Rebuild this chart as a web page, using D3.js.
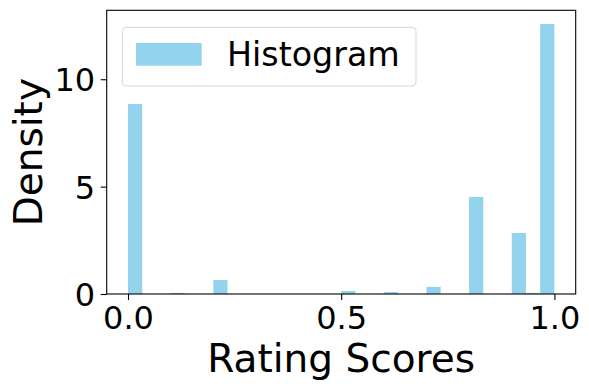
<!DOCTYPE html>
<html>
<head>
<meta charset="utf-8">
<script src="https://cdn.jsdelivr.net/npm/d3@7"></script>
<style>
  body { margin: 0; background: #fff; }
  svg { display: block; font-family: "DejaVu Sans", sans-serif; }
</style>
</head>
<body>
<svg id="chart" width="589" height="390"></svg>
<script>
// ---- data ----
const binLeft  = [0.0, 0.1, 0.2, 0.5, 0.6, 0.7, 0.8, 0.9, 0.9333, 0.9667];
const binRight = [0.0333, 0.1333, 0.2333, 0.5333, 0.6333, 0.7333, 0.8333, 0.9333, 0.9667, 1.0];
const density  = [8.85, 0.05, 0.65, 0.14, 0.09, 0.33, 4.52, 2.84, 0.05, 12.57];
const xTicks = [0.0, 0.5, 1.0];
const yTicks = [0, 5, 10];
const seriesName = "Histogram";
const xLabel = "Rating Scores";
const yLabel = "Density";

// ---- layout ----
const svg = d3.select("#chart");
const L = 106.7, R = 575.7, T = 10.3, B = 294;
const x = d3.scaleLinear().domain([-0.05, 1.05]).range([L, R]);
const y = d3.scaleLinear().domain([0, 13.21]).range([B, T]);
const barColor = "#93d3ed";

// bars
svg.append("g").selectAll("rect")
  .data(binLeft.map((l, i) => ({l, r: binRight[i], v: density[i]})))
  .join("rect")
  .attr("x", d => x(d.l))
  .attr("width", d => x(d.r) - x(d.l))
  .attr("y", d => y(d.v))
  .attr("height", d => y(0) - y(d.v))
  .attr("fill", barColor);

// axes
const xAxis = svg.append("g")
  .attr("transform", `translate(0,${B})`)
  .call(d3.axisBottom(x).tickValues(xTicks).tickFormat(d3.format(".1f")).tickSize(6).tickPadding(6).tickSizeOuter(0));
const yAxis = svg.append("g")
  .attr("transform", `translate(${L},0)`)
  .call(d3.axisLeft(y).tickValues(yTicks).tickFormat(d3.format("d")).tickSize(6).tickPadding(5.5).tickSizeOuter(0));

[xAxis, yAxis].forEach(g => {
  g.select(".domain").remove();
  g.selectAll(".tick line").attr("stroke", "#000").attr("stroke-width", 1.1);
  g.selectAll(".tick text").attr("fill", "#000").style("font-size", "32px")
   .style("font-family", "DejaVu Sans, sans-serif");
});
xAxis.selectAll(".tick text").attr("dy", null).attr("y", 35);
yAxis.selectAll(".tick text").attr("dy", "0.36em");

// frame
svg.append("rect")
  .attr("x", L).attr("y", T).attr("width", R - L).attr("height", B - T)
  .attr("fill", "none").attr("stroke", "#000").attr("stroke-width", 1.1);

// axis labels
svg.append("text")
  .attr("x", (L + R) / 2).attr("y", 371.7)
  .attr("text-anchor", "middle")
  .style("font-size", "39px")
  .text(xLabel);
svg.append("text")
  .attr("transform", `translate(42,${(T + B) / 2}) rotate(-90)`)
  .attr("text-anchor", "middle")
  .style("font-size", "39px")
  .text(yLabel);

// legend
const lg = svg.append("g");
lg.append("rect")
  .attr("x", 122.3).attr("y", 27.3).attr("width", 293.7).attr("height", 58.7)
  .attr("rx", 4).attr("ry", 4)
  .attr("fill", "#fff").attr("fill-opacity", 0.8)
  .attr("stroke", "#d6d6d6").attr("stroke-width", 1);
lg.append("rect")
  .attr("x", 136).attr("y", 43).attr("width", 65.7).attr("height", 22.7)
  .attr("fill", barColor);
lg.append("text")
  .attr("x", 227).attr("y", 65.7)
  .style("font-size", "33.3px")
  .text(seriesName);
</script>
</body>
</html>
